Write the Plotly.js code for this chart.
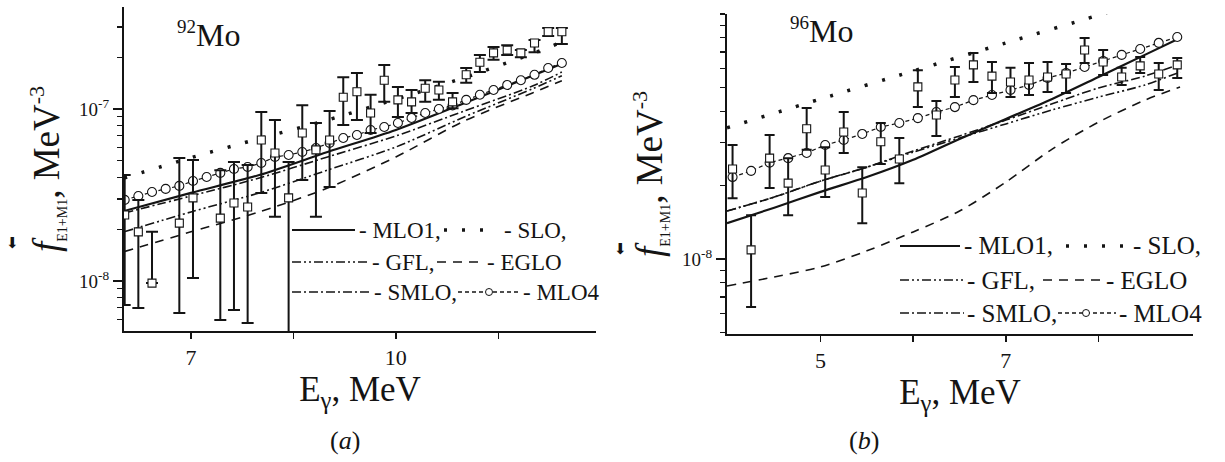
<!DOCTYPE html>
<html>
<head>
<meta charset="utf-8">
<script src="https://cdn.plot.ly/plotly-3.0.1.min.js"></script>
<style>html,body{margin:0;padding:0;background:#fff;}#chart{width:1225px;height:462px;}</style>
</head>
<body>
<div id="chart"></div>
<script>
// ---------- Panel (a): 92Mo ----------
const expA_E   = [6.03, 6.23, 6.43, 6.83, 7.03, 7.43, 7.63, 7.83, 8.03, 8.23, 8.43, 8.63, 8.83, 9.03, 9.23, 9.43, 9.63, 9.83, 10.03, 10.23, 10.43, 10.63, 10.83, 11.03, 11.23, 11.43, 11.63, 11.83, 12.03, 12.23, 12.43];
const expA_f   = [2.42e-8, 1.93e-8, 9.72e-9, 2.17e-8, 3.04e-8, 2.32e-8, 2.84e-8, 2.69e-8, 6.60e-8, 5.55e-8, 3.04e-8, 7.25e-8, 5.78e-8, 6.60e-8, 1.17e-7, 1.26e-7, 9.48e-8, 1.47e-7, 1.13e-7, 1.10e-7, 1.32e-7, 1.29e-7, 1.10e-7, 1.58e-7, 1.87e-7, 2.12e-7, 2.20e-7, 2.12e-7, 2.42e-7, 2.81e-7, 2.81e-7];
const expA_hi  = [4.13e-8, 2.96e-8, 1.93e-8, 5.19e-8, 5.05e-8, 4.41e-8, 4.92e-8, 4.72e-8, 9.61e-8, 8.63e-8, 4.92e-8, 1.05e-7, 8.30e-8, 9.73e-8, 1.53e-7, 1.62e-7, 1.21e-7, 1.80e-7, 1.34e-7, 1.29e-7, 1.47e-7, 1.44e-7, 1.24e-7, 1.73e-7, 2.06e-7, 2.29e-7, 2.35e-7, 2.20e-7, 2.52e-7, 2.96e-7, 2.96e-7];
const expA_lo  = [7.24e-9, 6.97e-9, 9.72e-9, 6.52e-9, 1.04e-8, 5.93e-9, 6.78e-9, 5.70e-9, 3.25e-8, 2.36e-8, 4.0e-9, 3.87e-8, 2.36e-8, 3.52e-8, 8.07e-8, 8.63e-8, 7.25e-8, 1.10e-7, 8.98e-8, 9.48e-8, 1.10e-7, 1.13e-7, 1.01e-7, 1.42e-7, 1.64e-7, 1.93e-7, 2.06e-7, 2.00e-7, 2.14e-7, 2.66e-7, 2.39e-7];

const mlo4A_E  = [6.03, 6.23, 6.43, 6.63, 6.83, 7.03, 7.23, 7.43, 7.63, 7.83, 8.03, 8.23, 8.43, 8.63, 8.83, 9.03, 9.23, 9.43, 9.63, 9.83, 10.03, 10.23, 10.43, 10.63, 10.83, 11.03, 11.23, 11.43, 11.63, 11.83, 12.03, 12.23, 12.43];
const mlo4A_f  = [2.96e-8, 3.12e-8, 3.29e-8, 3.43e-8, 3.57e-8, 3.81e-8, 4.02e-8, 4.25e-8, 4.48e-8, 4.60e-8, 4.85e-8, 5.26e-8, 5.40e-8, 5.62e-8, 5.93e-8, 6.34e-8, 6.78e-8, 7.06e-8, 7.55e-8, 7.86e-8, 8.29e-8, 8.87e-8, 9.48e-8, 1.00e-7, 1.05e-7, 1.13e-7, 1.21e-7, 1.29e-7, 1.38e-7, 1.47e-7, 1.58e-7, 1.73e-7, 1.85e-7];

const modelA_E = [6.02, 7, 8, 9, 10, 11, 12, 12.43];
const mlo1A    = [2.55e-8, 3.25e-8, 4.13e-8, 5.62e-8, 7.55e-8, 1.08e-7, 1.56e-7, 1.83e-7];
const smloA    = [2.48e-8, 3.12e-8, 3.97e-8, 5.26e-8, 6.97e-8, 9.73e-8, 1.36e-7, 1.64e-7];
const gflA     = [1.93e-8, 2.52e-8, 3.25e-8, 4.41e-8, 6.01e-8, 8.98e-8, 1.31e-7, 1.56e-7];
const egloA    = [1.48e-8, 1.93e-8, 2.52e-8, 3.47e-8, 5.26e-8, 8.51e-8, 1.24e-7, 1.46e-7];
const sloA     = [3.97e-8, 5.21e-8, 6.73e-8, 8.63e-8, 1.14e-7, 1.52e-7, 2.10e-7, 2.45e-7];

// ---------- Panel (b): 96Mo ----------
const expB_E   = [4.05, 4.25, 4.45, 4.65, 4.85, 5.05, 5.25, 5.45, 5.65, 5.85, 6.05, 6.25, 6.45, 6.65, 6.85, 7.05, 7.25, 7.45, 7.65, 7.85, 8.05, 8.25, 8.45, 8.65, 8.85];
const expB_f   = [2.33e-8, 1.09e-8, 2.58e-8, 2.04e-8, 3.40e-8, 2.31e-8, 3.30e-8, 1.86e-8, 3.01e-8, 2.56e-8, 5.04e-8, 3.87e-8, 5.38e-8, 6.20e-8, 5.58e-8, 5.28e-8, 5.38e-8, 5.53e-8, 5.69e-8, 7.13e-8, 6.37e-8, 5.53e-8, 6.14e-8, 5.69e-8, 6.20e-8];
const expB_hi  = [2.92e-8, 1.51e-8, 3.21e-8, 2.58e-8, 4.13e-8, 2.86e-8, 3.98e-8, 2.37e-8, 3.59e-8, 3.12e-8, 5.90e-8, 4.42e-8, 6.08e-8, 6.93e-8, 6.37e-8, 6.03e-8, 6.31e-8, 6.37e-8, 6.25e-8, 7.98e-8, 7.13e-8, 6.03e-8, 6.67e-8, 6.31e-8, 6.61e-8];
const expB_lo  = [1.77e-8, 6.37e-9, 1.95e-8, 1.51e-8, 2.79e-8, 1.79e-8, 2.71e-8, 1.40e-8, 2.44e-8, 2.04e-8, 4.17e-8, 3.18e-8, 4.58e-8, 5.28e-8, 4.76e-8, 4.58e-8, 4.67e-8, 4.81e-8, 4.76e-8, 6.31e-8, 5.64e-8, 5.13e-8, 5.74e-8, 4.90e-8, 5.48e-8];

const mlo4B_f  = [2.16e-8, 2.29e-8, 2.47e-8, 2.58e-8, 2.71e-8, 2.92e-8, 3.06e-8, 3.24e-8, 3.46e-8, 3.59e-8, 3.76e-8, 3.98e-8, 4.17e-8, 4.45e-8, 4.67e-8, 4.90e-8, 5.13e-8, 5.48e-8, 5.74e-8, 6.08e-8, 6.43e-8, 6.81e-8, 7.20e-8, 7.62e-8, 8.06e-8];

const modelB_E = [3.99, 4.5, 5, 5.5, 6, 6.5, 7, 7.5, 8, 8.5, 8.88];
const mlo1B    = [1.40e-8, 1.62e-8, 1.88e-8, 2.16e-8, 2.54e-8, 3.09e-8, 3.73e-8, 4.50e-8, 5.53e-8, 6.81e-8, 7.98e-8];
const smloB    = [1.57e-8, 1.79e-8, 2.08e-8, 2.37e-8, 2.76e-8, 3.18e-8, 3.69e-8, 4.30e-8, 4.99e-8, 5.58e-8, 6.25e-8];
const gflB     = [1.57e-8, 1.79e-8, 2.08e-8, 2.37e-8, 2.73e-8, 3.12e-8, 3.56e-8, 4.06e-8, 4.58e-8, 5.13e-8, 5.80e-8];
const egloB    = [7.76e-9, 8.45e-9, 9.28e-9, 1.08e-8, 1.29e-8, 1.57e-8, 2.06e-8, 2.81e-8, 3.62e-8, 4.45e-8, 5.04e-8];
const sloB_E   = [3.99, 5, 6, 7, 8, 8.88];
const sloB     = [3.43e-8, 4.50e-8, 5.85e-8, 7.62e-8, 9.90e-8, 1.26e-7];

// ---------- text / ticks ----------
const xTitle = 'E<sub>γ</sub>, MeV';
const yTitle = '<i>f</i><sub><span style="font-size:14px">E1+M1</span></sub>, MeV<sup><span style="font-size:22px">-3</span></sup>';
const xMajA = [7, 10],  xMajTextA = ['7', '10'],  xMinA = [8.5, 11.5];
const xMajB = [5, 7],   xMajTextB = ['5', '7'],   xMinB = [6, 8];
const yMajA = [1e-8, 1e-7], yMajTextA = ['10<sup>-8</sup>', '10<sup>-7</sup>'];
const yMinA = [6e-9, 7e-9, 8e-9, 9e-9, 2e-8, 3e-8, 4e-8, 5e-8, 6e-8, 7e-8, 8e-8, 9e-8, 2e-7, 3e-7];
const yMajB = [1e-8], yMajTextB = ['10<sup>-8</sup>'];
const yMinB = [5e-9, 6e-9, 7e-9, 8e-9, 9e-9, 2e-8, 3e-8, 4e-8, 5e-8, 6e-8, 7e-8, 8e-8, 9e-8, 1e-7];

// ---------- styles ----------
const INK = '#141414';
const SERIF = 'Liberation Serif, Times New Roman, serif';
const DASH = {
  MLO1: 'solid',
  SLO: '3px,15px',
  GFL: '9px,3px,2px,3px,2px,3px',
  EGLO: '9px,7px',
  SMLO: '9px,3px,2px,3px',
  MLO4: '4px,3px'
};
const WID = {MLO1: 2.2, SLO: 3.5, GFL: 1.6, EGLO: 1.6, SMLO: 1.6, MLO4: 1.2};

function model(x, y, key, xa, ya) {
  return {x: x, y: y, xaxis: xa, yaxis: ya, type: 'scatter', mode: 'lines', name: key, showlegend: false,
    line: {color: INK, width: WID[key], dash: DASH[key], shape: 'spline', smoothing: 0.8}, hoverinfo: 'skip'};
}
function mlo4(x, y, xa, ya, size) {
  return {x: x, y: y, xaxis: xa, yaxis: ya, type: 'scatter', mode: 'lines+markers', name: 'MLO4', showlegend: false,
    line: {color: INK, width: WID.MLO4, dash: DASH.MLO4},
    marker: {symbol: 'circle', size: size, color: 'white', line: {color: INK, width: 1.1}}};
}
function exper(x, y, hi, lo, xa, ya, size, cap) {
  return {x: x, y: y, xaxis: xa, yaxis: ya, type: 'scatter', mode: 'markers', name: 'exp', showlegend: false,
    marker: {symbol: 'square', size: size, color: 'white', line: {color: INK, width: 1.1}},
    error_y: {type: 'data', symmetric: false,
      array: hi.map((h, i) => h - y[i]), arrayminus: lo.map((l, i) => y[i] - l),
      color: INK, thickness: 2, width: cap}};
}

const traces = [
  model(modelA_E, egloA, 'EGLO', 'x', 'y'),
  model(modelA_E, gflA, 'GFL', 'x', 'y'),
  model(modelA_E, smloA, 'SMLO', 'x', 'y'),
  model(modelA_E, sloA, 'SLO', 'x', 'y'),
  model(modelA_E, mlo1A, 'MLO1', 'x', 'y'),
  mlo4(mlo4A_E, mlo4A_f, 'x', 'y', 9),
  exper(expA_E, expA_f, expA_hi, expA_lo, 'x', 'y', 8, 6),

  model(modelB_E, egloB, 'EGLO', 'x2', 'y2'),
  model(modelB_E, gflB, 'GFL', 'x2', 'y2'),
  model(modelB_E, smloB, 'SMLO', 'x2', 'y2'),
  model(sloB_E, sloB, 'SLO', 'x2', 'y2'),
  model(modelB_E, mlo1B, 'MLO1', 'x2', 'y2'),
  mlo4(expB_E, mlo4B_f, 'x2', 'y2', 9),
  exper(expB_E, expB_f, expB_hi, expB_lo, 'x2', 'y2', 8, 5)
];

// pixel -> paper helpers (layout only)
const W = 1225, H = 462;
const PX = v => v / W, PY = v => 1 - v / H;

function xAxis(domain, range, tv, tt, minor, anchor) {
  return {domain: domain, range: range, anchor: anchor, showline: true, linecolor: INK, linewidth: 2,
    ticks: 'outside', ticklen: 6, tickwidth: 1.5, tickcolor: INK, tickmode: 'array', tickvals: tv, ticktext: tt,
    minor: {tickmode: 'array', tickvals: minor, ticks: 'outside', ticklen: 6, tickwidth: 1.5, tickcolor: INK, showgrid: false},
    tickfont: {family: SERIF, size: 22, color: INK}, showgrid: false, zeroline: false, fixedrange: true,
    title: {text: xTitle, font: {family: SERIF, size: 35, color: INK}, standoff: 6}};
}
function yAxis(domain, range, tv, tt, minor, anchor) {
  return {type: 'log', domain: domain, range: range, anchor: anchor, showline: true, linecolor: INK, linewidth: 2,
    ticks: 'outside', ticklen: 9, tickwidth: 1.5, tickcolor: INK, tickmode: 'array', tickvals: tv, ticktext: tt,
    tickfont: {family: SERIF, size: 19, color: INK}, showgrid: false, zeroline: false, fixedrange: true,
    minor: {tickmode: 'array', tickvals: minor, ticks: 'outside', ticklen: 5, tickwidth: 1.2, tickcolor: INK, showgrid: false},
    title: {text: yTitle, font: {family: SERIF, size: 37, color: INK}, standoff: 8}};
}

// legend drawing (shapes + annotations)
const shapes = [];
const annotations = [];
function sample(x0, x1, y, key) {
  shapes.push({type: 'line', xref: 'paper', yref: 'paper', x0: PX(x0), x1: PX(x1), y0: PY(y), y1: PY(y),
    line: {color: INK, width: key === 'SLO' ? 3.5 : (key === 'MLO1' ? 2.2 : 1.6), dash: DASH[key]}});
}
function circ(cx, cy, r) {
  shapes.push({type: 'circle', xref: 'paper', yref: 'paper', x0: PX(cx - r), x1: PX(cx + r), y0: PY(cy + r), y1: PY(cy - r),
    fillcolor: 'white', line: {color: INK, width: 1}});
}
function label(x, y, text, size, anchor) {
  annotations.push({xref: 'paper', yref: 'paper', x: PX(x), y: PY(y), text: text, showarrow: false,
    xanchor: anchor || 'left', yanchor: 'middle', font: {family: SERIF, size: size, color: INK}});
}

// legend (a)
sample(292, 355, 230, 'MLO1'); label(357, 230, '- MLO1,', 23);
sample(444, 498, 230, 'SLO');  label(502, 230, '- SLO,', 23);
sample(292, 368, 262, 'GFL');  label(370, 262, '- GFL,', 23);
sample(437, 480, 262, 'EGLO'); label(485, 262, '- EGLO', 23);
sample(292, 370, 292, 'SMLO'); label(372, 292, '- SMLO,', 23);
sample(458, 520, 292, 'MLO4'); circ(489, 292, 3.5); label(521, 292, '- MLO4', 23);

// legend (b)
sample(900, 960, 246, 'MLO1'); label(962, 246, '- MLO1,', 25);
sample(1066, 1128, 246, 'SLO'); label(1131, 246, '- SLO,', 25);
sample(900, 963, 280, 'GFL');  label(965, 280, '- GFL,', 25);
sample(1043, 1100, 280, 'EGLO'); label(1104, 280, '- EGLO', 25);
sample(900, 964, 313, 'SMLO'); label(965, 313, '- SMLO,', 25);
sample(1058, 1116, 313, 'MLO4'); circ(1086, 313, 3.5); label(1117, 313, '- MLO4', 25);

// panel titles and captions
label(175, 34, '<sup><span style="font-size:19px">92</span></sup>Mo', 32);
label(788, 30, '<sup><span style="font-size:19px">96</span></sup>Mo', 32);
label(345, 440, '(<i>a</i>)', 26, 'center');
label(864, 440, '(<i>b</i>)', 26, 'center');
annotations.push({xref: 'paper', yref: 'paper', x: PX(12), y: PY(243), text: '⬇', showarrow: false,
  xanchor: 'center', yanchor: 'middle', font: {family: 'DejaVu Sans', size: 15, color: INK}});
annotations.push({xref: 'paper', yref: 'paper', x: PX(620), y: PY(249), text: '⬇', showarrow: false,
  xanchor: 'center', yanchor: 'middle', font: {family: 'DejaVu Sans', size: 15, color: INK}});

const layout = {
  width: W, height: H, margin: {l: 0, r: 0, t: 0, b: 0, autoexpand: false},
  paper_bgcolor: 'white', plot_bgcolor: 'white', showlegend: false,
  font: {family: SERIF, color: INK},
  xaxis:  xAxis([124 / W, 596 / W], [6.02, 12.93], xMajA, xMajTextA, xMinA, 'y'),
  yaxis:  yAxis([1 - 331 / H, 1 - 7 / H], [-8.291, -6.407], yMajA, yMajTextA, yMinA, 'x'),
  xaxis2: xAxis([727 / W, 1193 / W], [3.99, 9.02], xMajB, xMajTextB, xMinB, 'y2'),
  yaxis2: yAxis([1 - 334 / H, 1 - 14 / H], [-8.306, -7.0], yMajB, yMajTextB, yMinB, 'x2'),
  shapes: shapes,
  annotations: annotations
};

Plotly.newPlot('chart', traces, layout, {displayModeBar: false, staticPlot: true});
</script>
</body>
</html>
